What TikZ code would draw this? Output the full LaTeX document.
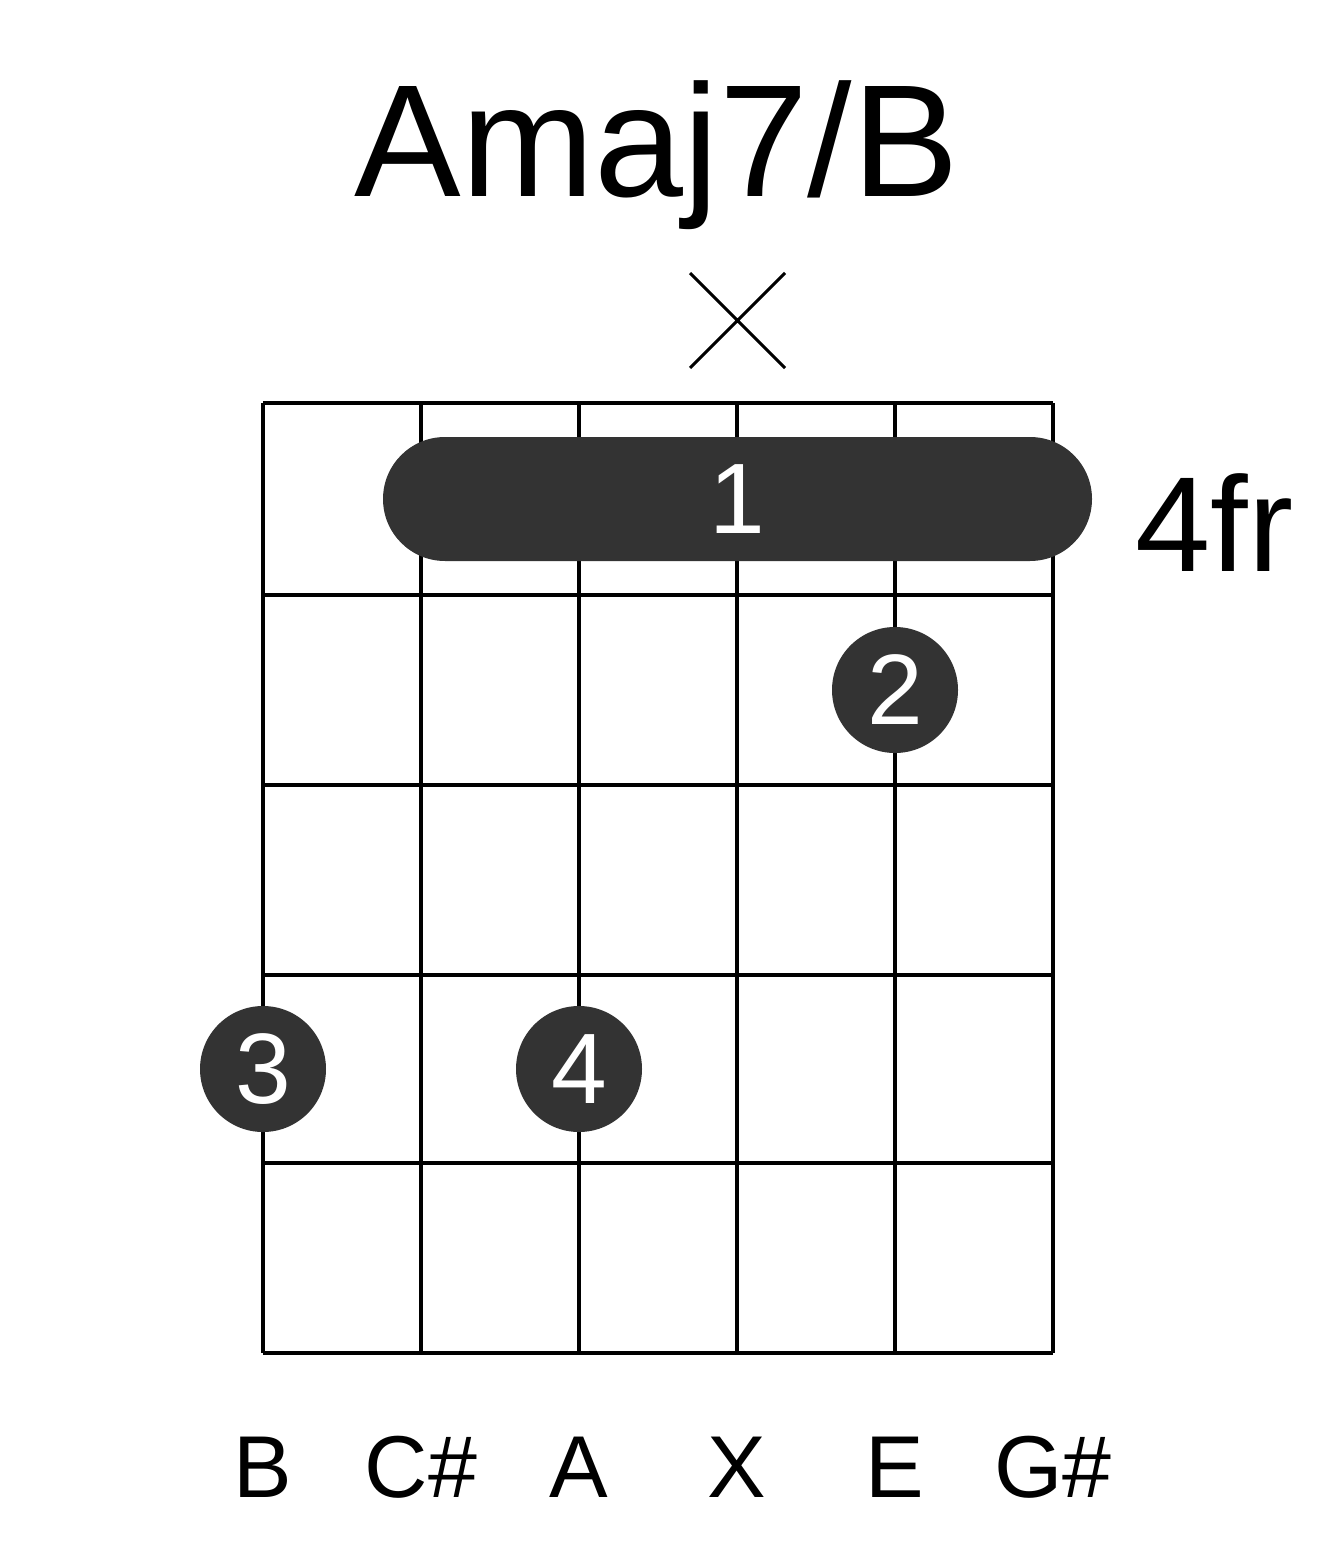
\documentclass[tikz,border=0pt]{standalone}
\usepackage{fontspec}
\setmainfont{Liberation Sans}
\definecolor{dk}{HTML}{333333}
\begin{document}
\begin{tikzpicture}[x=0.02cm,y=-0.02cm,
  grid/.style={line width=4*0.02cm},
  dot/.style={circle,fill=dk,minimum size=126*0.02cm,inner sep=0pt,text=white,font=\fontsize{57}{60}\selectfont},
  lab/.style={font=\fontsize{50}{54}\selectfont}]
\useasboundingbox (0,0) rectangle (1317,1551);
\foreach \x in {263,421,579,737,895,1053} \draw[grid] (\x,403) -- (\x,1353);
\foreach \y in {403,595,785,975,1163,1353} \draw[grid] (263,\y) -- (1053,\y);
\node[font=\fontsize{91}{96}\selectfont] (title) at (657,155) {Amaj7/B};
\coordinate (xa) at (690,273); \coordinate (xb) at (785,368);
\coordinate (xc) at (785,273); \coordinate (xd) at (690,368);
\draw[line width=3*0.02cm] (xa) -- (xb) (xc) -- (xd);
\fill[dk,rounded corners=62*0.02cm] (383,437) rectangle (1092,561);
\node[text=white,font=\fontsize{57}{60}\selectfont] (f1) at (737,499) {1};
\node[dot] (f2) at (895,690) {2};
\node[dot] (f3) at (263,1069) {3};
\node[dot] (f4) at (579,1069) {4};
\node[anchor=west,font=\fontsize{77}{80}\selectfont,inner sep=0pt] (fr) at (1135,523) {4fr};
\foreach \x/\t in {263/B,421/C\#,579/A,737/X,895/E,1053/G\#}
  \node[lab] at (\x,1467) {\t};
\end{tikzpicture}
\end{document}
